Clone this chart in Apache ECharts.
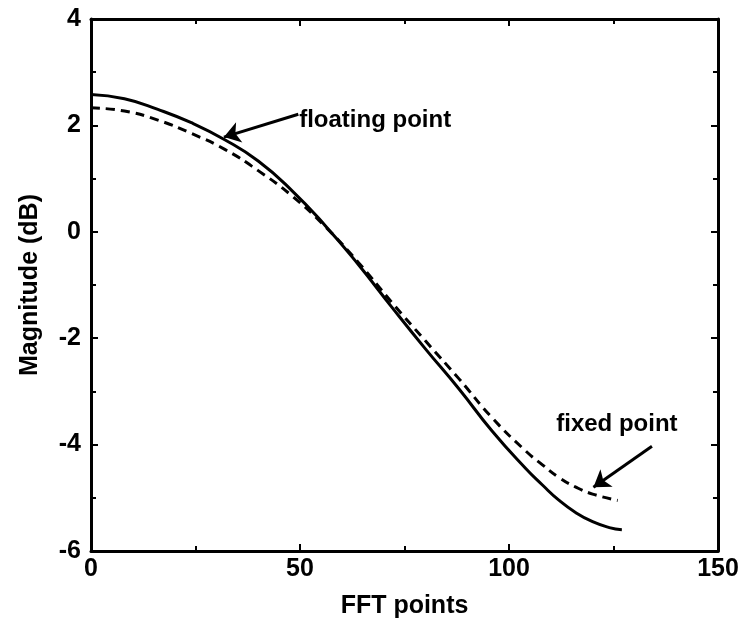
<!DOCTYPE html>
<html>
<head>
<meta charset="utf-8">
<script src="https://cdn.jsdelivr.net/npm/echarts@6/dist/echarts.min.js"></script>
<style>
  html, body { margin: 0; padding: 0; background: #fff; }
</style>
</head>
<body>
<div id="Echarts" style="width: 743px; height: 623px"></div>
<script>
// FFT point positions
var floatX = [0, 8, 16, 24, 32, 40, 48, 56, 64, 72, 80, 88, 96, 104, 108, 112, 116, 120, 124, 127]
var floatY = [2.58, 2.50, 2.30, 2.05, 1.73, 1.33, 0.78, 0.12, -0.62, -1.42, -2.20, -2.95, -3.75, -4.45, -4.76, -5.05, -5.28, -5.45, -5.56, -5.60]
var fixedX = [0, 8, 16, 24, 32, 40, 48, 56, 64, 72, 80, 88, 96, 104, 108, 112, 116, 120, 126]
var fixedY = [2.33, 2.27, 2.10, 1.85, 1.55, 1.15, 0.68, 0.10, -0.58, -1.33, -2.05, -2.76, -3.50, -4.12, -4.38, -4.62, -4.80, -4.93, -5.05]

var font = 'Liberation Sans, Arial, sans-serif'

function pairs(xs, ys) {
  return xs.map(function (x, i) { return [x, ys[i]] })
}

var myChart = echarts.init(document.getElementById('Echarts'))

var axisCommon = {
  type: 'value',
  axisLine: { show: true, onZero: false, lineStyle: { color: '#000', width: 3 } },
  axisTick: { show: true, inside: true, length: 7, lineStyle: { color: '#000', width: 2 } },
  minorTick: { show: true, splitNumber: 2, length: 5, lineStyle: { color: '#000', width: 2 } },
  splitLine: { show: false }
}

var labelStyle = { color: '#000', fontFamily: font, fontWeight: 'bold', fontSize: 25 }

var option = {
  animation: false,
  grid: { left: 91, right: 25, top: 19, bottom: 72, outerBoundsMode: 'none', containLabel: false },
  xAxis: [
    Object.assign({}, axisCommon, {
      min: 0, max: 150, interval: 50,
      position: 'bottom',
      name: 'FFT points',
      nameLocation: 'middle',
      nameGap: 43,
      nameTextStyle: labelStyle,
      axisLabel: Object.assign({ margin: 6 }, labelStyle)
    }),
    Object.assign({}, axisCommon, {
      min: 0, max: 150, interval: 50,
      position: 'top',
      axisLabel: { show: false }
    })
  ],
  yAxis: [
    Object.assign({}, axisCommon, {
      min: -6, max: 4, interval: 2,
      position: 'left',
      name: 'Magnitude (dB)',
      nameLocation: 'middle',
      nameGap: 48,
      nameTextStyle: labelStyle,
      axisLabel: Object.assign({ margin: 10 }, labelStyle)
    }),
    Object.assign({}, axisCommon, {
      min: -6, max: 4, interval: 2,
      position: 'right',
      axisLabel: { show: false }
    })
  ],
  series: [
    {
      name: 'floating point',
      type: 'line',
      smooth: true,
      showSymbol: false,
      data: pairs(floatX, floatY),
      lineStyle: { color: '#000', width: 3 },
      markLine: {
        silent: true,
        symbol: ['none', 'arrow'],
        symbolSize: 16,
        lineStyle: { color: '#000', width: 3, type: 'solid' },
        label: { show: false },
        data: [[{ coord: [49.6, 2.21] }, { coord: [31.8, 1.78] }]]
      },
      markPoint: {
        silent: true,
        symbol: 'circle',
        symbolSize: 0,
        label: Object.assign({
          show: true,
          formatter: 'floating point',
          position: 'right',
          distance: 0
        }, labelStyle, { fontSize: 24 }),
        data: [{ coord: [49.8, 2.1] }]
      }
    },
    {
      name: 'fixed point',
      type: 'line',
      smooth: true,
      showSymbol: false,
      data: pairs(fixedX, fixedY),
      lineStyle: { color: '#000', width: 3, type: [9, 6] },
      markLine: {
        silent: true,
        symbol: ['none', 'arrow'],
        symbolSize: 16,
        lineStyle: { color: '#000', width: 3, type: 'solid' },
        label: { show: false },
        data: [[{ coord: [134.2, -4.03] }, { coord: [120.2, -4.8] }]]
      },
      markPoint: {
        silent: true,
        symbol: 'circle',
        symbolSize: 0,
        label: Object.assign({
          show: true,
          formatter: 'fixed point',
          position: 'right',
          distance: 0
        }, labelStyle, { fontSize: 24 }),
        data: [{ coord: [111.3, -3.62] }]
      }
    }
  ]
}

myChart.setOption(option)
</script>
</body>
</html>
